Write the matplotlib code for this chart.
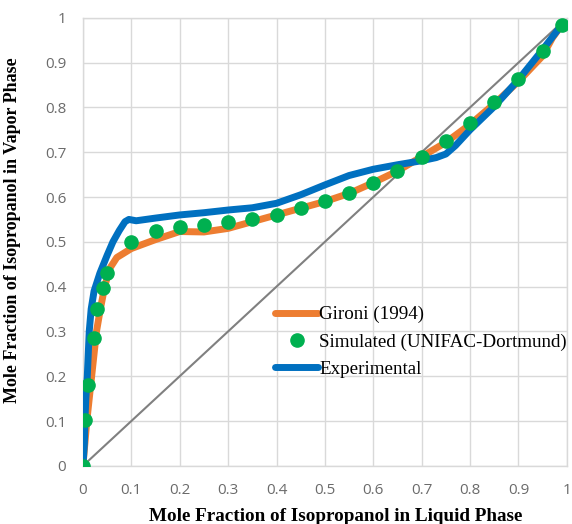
import matplotlib
matplotlib.use("Agg")
import matplotlib.pyplot as plt
from matplotlib.ticker import FuncFormatter

# Experimental curve
exp_x = [0, 0.003, 0.004, 0.006, 0.009, 0.011, 0.013, 0.017, 0.023, 0.035, 0.05, 0.062,
         0.075, 0.087, 0.095, 0.11, 0.15, 0.2, 0.25, 0.3, 0.35, 0.4, 0.45, 0.5, 0.55,
         0.6, 0.65, 0.7, 0.73, 0.75, 0.77, 0.8, 0.85, 0.9, 0.95, 0.99]
exp_y = [0, 0.05, 0.1, 0.15, 0.2, 0.25, 0.3, 0.35, 0.39, 0.43, 0.47, 0.5,
         0.525, 0.545, 0.55, 0.547, 0.553, 0.56, 0.565, 0.571, 0.576, 0.586, 0.605, 0.627, 0.648,
         0.662, 0.672, 0.681, 0.688, 0.696, 0.715, 0.75, 0.802, 0.862, 0.929, 0.985]

# Gironi (1994) curve
gir_x = [0, 0.004, 0.008, 0.013, 0.018, 0.023, 0.028, 0.036, 0.045, 0.055, 0.07, 0.1,
         0.15, 0.2, 0.25, 0.3, 0.35, 0.4, 0.45, 0.5, 0.55, 0.6, 0.65, 0.7, 0.75, 0.8,
         0.85, 0.9, 0.95, 0.97, 0.99]
gir_y = [0, 0.05, 0.1, 0.15, 0.2, 0.25, 0.3, 0.35, 0.4, 0.44, 0.465, 0.485,
         0.505, 0.523, 0.522, 0.53, 0.545, 0.56, 0.575, 0.59, 0.608, 0.632, 0.658, 0.69, 0.722, 0.762,
         0.808, 0.858, 0.915, 0.955, 0.985]

# Simulated (UNIFAC-Dortmund) points
sim_x = [0, 0.005, 0.01, 0.022, 0.03, 0.042, 0.05, 0.1, 0.15, 0.2, 0.25, 0.3, 0.35,
         0.4, 0.45, 0.5, 0.55, 0.6, 0.65, 0.7, 0.75, 0.8, 0.85, 0.9, 0.95, 0.99]
sim_y = [0, 0.103, 0.18, 0.285, 0.35, 0.397, 0.43, 0.5, 0.525, 0.532, 0.537, 0.544, 0.552,
         0.56, 0.575, 0.591, 0.61, 0.632, 0.658, 0.69, 0.725, 0.765, 0.812, 0.864, 0.926, 0.984]

ticks = [0, 0.1, 0.2, 0.3, 0.4, 0.5, 0.6, 0.7, 0.8, 0.9, 1.0]

fig = plt.figure(figsize=(5.72, 5.24), dpi=100)
ax = fig.add_axes([0.145, 0.111, 0.846, 0.855])

ax.plot([0, 1], [0, 1], color="#808080", lw=1.5, zorder=2)
ax.plot(gir_x, gir_y, color="#ED7D31", lw=5, solid_capstyle="round", label="Gironi (1994)", zorder=3)
ax.plot(sim_x, sim_y, 'o', color="#00B050", ms=9.5, label="Simulated (UNIFAC-Dortmund)", zorder=5)
ax.plot(exp_x, exp_y, color="#0070C0", lw=5, solid_capstyle="round", label="Experimental", zorder=4)

ax.set_xlim(0, 1)
ax.set_ylim(0, 1)
ax.set_xticks(ticks)
ax.set_yticks(ticks)
fmt = FuncFormatter(lambda v, p: "%g" % round(v, 1))
ax.xaxis.set_major_formatter(fmt)
ax.yaxis.set_major_formatter(fmt)
ax.grid(True, color="#D9D9D9", lw=1, zorder=0)
ax.set_axisbelow(True)
for s in ax.spines.values():
    s.set_color("#D9D9D9")
    s.set_linewidth(1)
ax.tick_params(length=0, labelsize=11, labelcolor="#6b6b6b", pad=12)
for lab in ax.get_xticklabels() + ax.get_yticklabels():
    lab.set_family("Open Sans")

ax.set_xlabel("Mole Fraction of Isopropanol in Liquid Phase", family="Liberation Serif",
              fontweight="bold", fontsize=13.8, labelpad=6)
ax.xaxis.set_label_coords(0.522, -0.095)
ax.set_ylabel("Mole Fraction of Isopropanol in Vapor Phase", family="Liberation Serif",
              fontweight="bold", fontsize=13, labelpad=8)
ax.yaxis.set_label_coords(-0.128, 0.525)

leg = ax.legend(loc="upper left", bbox_to_anchor=(0.382, 0.374), frameon=False,
                prop={"family": "Liberation Serif", "size": 13.7},
                handlelength=2.25, handletextpad=0.05, labelspacing=0.53, borderaxespad=0)

fig.savefig("out.png", dpi=100)
